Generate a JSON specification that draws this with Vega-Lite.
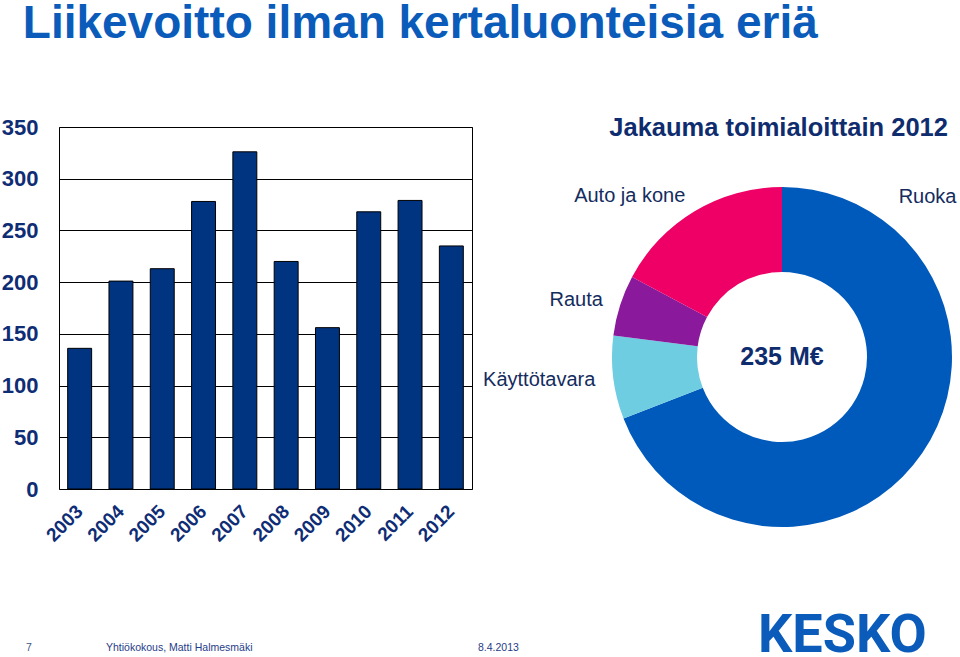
{
  "$schema": "https://vega.github.io/schema/vega-lite/v6.json",
  "padding": {"left": 0, "top": 0, "right": 0, "bottom": 0},
  "background": "white",
  "title": {
    "text": "Liikevoitto ilman kertaluonteisia eriä",
    "anchor": "start",
    "dx": 22,
    "fontSize": 46,
    "font": "Liberation Sans",
    "fontWeight": "bold",
    "color": "#0b5cba",
    "offset": 68
  },
  "spacing": 22,
  "vconcat": [
    {
      "spacing": 10,
      "hconcat": [
        {
          "width": 413,
          "height": 362,
          "view": {"stroke": "#000000", "strokeWidth": 1},
          "data": {
            "values": [
              {"vuosi": "2003", "liikevoitto": 136},
              {"vuosi": "2004", "liikevoitto": 201},
              {"vuosi": "2005", "liikevoitto": 213},
              {"vuosi": "2006", "liikevoitto": 278},
              {"vuosi": "2007", "liikevoitto": 326},
              {"vuosi": "2008", "liikevoitto": 220},
              {"vuosi": "2009", "liikevoitto": 156},
              {"vuosi": "2010", "liikevoitto": 268},
              {"vuosi": "2011", "liikevoitto": 279},
              {"vuosi": "2012", "liikevoitto": 235}
            ]
          },
          "mark": {"type": "bar", "fill": "#003380", "stroke": "#000000", "strokeWidth": 1},
          "encoding": {
            "x": {
              "field": "vuosi",
              "type": "nominal",
              "sort": null,
              "scale": {"paddingInner": 0.42, "paddingOuter": 0.21},
              "axis": {
                "title": null,
                "labelAngle": -45,
                "labelAlign": "right",
                "labelBaseline": "middle",
                "labelPadding": 19,
                "labelFontSize": 19,
                "labelFontWeight": "bold",
                "labelColor": "#0f2d75",
                "labelFont": "Liberation Sans",
                "ticks": false,
                "domain": false
              }
            },
            "y": {
              "field": "liikevoitto",
              "type": "quantitative",
              "scale": {"domain": [0, 350], "nice": false},
              "axis": {
                "title": null,
                "values": [0, 50, 100, 150, 200, 250, 300, 350],
                "grid": true,
                "gridColor": "#000000",
                "gridOpacity": 1,
                "gridWidth": 1,
                "ticks": false,
                "domain": false,
                "labelPadding": 21,
                "labelFontSize": 22,
                "labelFontWeight": "bold",
                "labelColor": "#0f2d75",
                "labelFont": "Liberation Sans"
              }
            }
          }
        },
        {
          "width": 340,
          "height": 460,
          "view": {"stroke": null},
          "title": {
            "text": "Jakauma toimialoittain 2012",
            "anchor": "end",
            "frame": "group",
            "fontSize": 25.5,
            "font": "Liberation Sans",
            "fontWeight": "bold",
            "color": "#0f2d6e",
            "offset": 0,
            "dy": 14,
            "dx": -4
          },
          "data": {
            "values": [
              {"toimiala": "Ruoka", "osuus": 162.4, "jarjestys": 1},
              {"toimiala": "Käyttötavara", "osuus": 18.6, "jarjestys": 2},
              {"toimiala": "Rauta", "osuus": 13.6, "jarjestys": 3},
              {"toimiala": "Auto ja kone", "osuus": 40.4, "jarjestys": 4}
            ]
          },
          "layer": [
            {
              "mark": {"type": "arc", "innerRadius": 85, "outerRadius": 170, "stroke": null},
              "encoding": {
                "theta": {"field": "osuus", "type": "quantitative", "stack": true},
                "order": {"field": "jarjestys", "type": "quantitative"},
                "color": {
                  "field": "toimiala",
                  "type": "nominal",
                  "scale": {
                    "domain": ["Ruoka", "Käyttötavara", "Rauta", "Auto ja kone"],
                    "range": ["#005abb", "#6fcde2", "#8a1a9b", "#ee0066"]
                  },
                  "legend": null
                }
              }
            },
            {
              "mark": {"type": "text", "radius": 188, "align": "right", "baseline": "middle", "fontSize": 20, "font": "Liberation Sans", "color": "#142c5e"},
              "encoding": {
                "theta": {"field": "osuus", "type": "quantitative", "stack": true},
                "order": {"field": "jarjestys", "type": "quantitative"},
                "text": {
                  "condition": {"test": "datum.toimiala === 'Ruoka'", "value": ""},
                  "field": "toimiala",
                  "type": "nominal"
                }
              }
            },
            {
              "transform": [{"filter": "datum.toimiala === 'Ruoka'"}],
              "mark": {"type": "text", "radius": 198, "theta": 0.63, "align": "left", "baseline": "middle", "fontSize": 20, "font": "Liberation Sans", "color": "#142c5e"},
              "encoding": {
                "text": {"field": "toimiala", "type": "nominal"}
              }
            },
            {
              "transform": [
                {"aggregate": [{"op": "sum", "field": "osuus", "as": "yhteensa"}]},
                {"calculate": "format(datum.yhteensa, '.0f') + ' M€'", "as": "teksti"}
              ],
              "mark": {"type": "text", "align": "center", "baseline": "middle", "fontSize": 25, "fontWeight": "bold", "font": "Liberation Sans", "color": "#0f2d6e"},
              "encoding": {
                "text": {"field": "teksti", "type": "nominal"}
              }
            }
          ]
        }
      ]
    },
    {
      "spacing": 0,
      "hconcat": [
        {
          "width": 47,
          "height": 40,
          "view": {"stroke": null},
          "data": {"values": [{"t": "7"}]},
          "mark": {"type": "text", "align": "left", "baseline": "middle", "dx": -33, "dy": 12, "fontSize": 10.5, "font": "Liberation Sans", "color": "#3a5580"},
          "encoding": {
            "x": {"field": "t", "type": "nominal", "axis": null, "bandPosition": 0, "scale": {"type": "band", "paddingInner": 0, "paddingOuter": 0}},
            "text": {"field": "t", "type": "nominal"}
          }
        },
        {
          "width": 372,
          "height": 40,
          "view": {"stroke": null},
          "data": {"values": [{"t": "Yhtiökokous, Matti Halmesmäki"}]},
          "mark": {"type": "text", "align": "left", "baseline": "middle", "dy": 12, "fontSize": 10.5, "font": "Liberation Sans", "color": "#1f3c88"},
          "encoding": {
            "x": {"field": "t", "type": "nominal", "axis": null, "bandPosition": 0, "scale": {"type": "band", "paddingInner": 0, "paddingOuter": 0}},
            "text": {"field": "t", "type": "nominal"}
          }
        },
        {
          "width": 280,
          "height": 40,
          "view": {"stroke": null},
          "data": {"values": [{"t": "8.4.2013"}]},
          "mark": {"type": "text", "align": "left", "baseline": "middle", "dy": 12, "fontSize": 10.5, "font": "Liberation Sans", "color": "#1f3c88"},
          "encoding": {
            "x": {"field": "t", "type": "nominal", "axis": null, "bandPosition": 0, "scale": {"type": "band", "paddingInner": 0, "paddingOuter": 0}},
            "text": {"field": "t", "type": "nominal"}
          }
        },
        {
          "width": 190,
          "height": 40,
          "view": {"stroke": null},
          "data": {"values": [{"t": "KESKO"}]},
          "mark": {"type": "text", "align": "left", "baseline": "middle", "fontSize": 54, "fontWeight": "bold", "font": "Roboto", "color": "#0b5cba"},
          "encoding": {
            "x": {"field": "t", "type": "nominal", "axis": null, "bandPosition": 0, "scale": {"type": "band", "paddingInner": 0, "paddingOuter": 0}},
            "text": {"field": "t", "type": "nominal"}
          }
        }
      ]
    }
  ],
  "config": {
    "view": {"stroke": null},
    "font": "Liberation Sans",
    "concat": {"spacing": 10}
  }
}
